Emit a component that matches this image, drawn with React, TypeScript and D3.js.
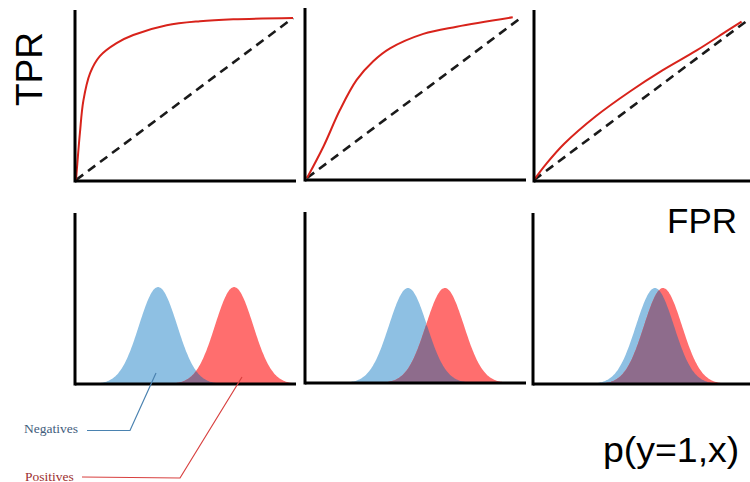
import React from "react";
import * as d3 from "d3";

// ROC curves: [FPR, TPR]
const roc1: [number, number][] = [
  [0, 0], [0.006, 0.1], [0.018, 0.29], [0.034, 0.49], [0.065, 0.66], [0.11, 0.765],
  [0.187, 0.845], [0.264, 0.895], [0.418, 0.955], [0.571, 0.98], [0.725, 0.992], [1, 1],
];
const roc2: [number, number][] = [
  [0, 0], [0.076, 0.194], [0.153, 0.422], [0.231, 0.609], [0.308, 0.725], [0.386, 0.805],
  [0.541, 0.895], [0.696, 0.94], [0.957, 0.998],
];
const roc3: [number, number][] = [
  [0, 0], [0.06, 0.105], [0.14, 0.225], [0.29, 0.4], [0.45, 0.555], [0.6, 0.685],
  [0.76, 0.81], [0.9, 0.93], [0.97, 0.99],
];
const rocSeries = [roc1, roc2, roc3];

// Score distributions (normalised score axis 0..1): mean and sd of each class
const negMeans = [0.376, 0.466, 0.562];
const posMeans = [0.72, 0.633, 0.599];
const classSd = [0.086, 0.086, 0.0876];

const labels = { tpr: "TPR", fpr: "FPR", joint: "p(y=1,x)", neg: "Negatives", pos: "Positives" };

// Layout
const topFrames = [
  { ax: 75, right: 296, top: 10, bottom: 181, x0: 76, x1: 293, y0: 180, y1: 18 },
  { ax: 305, right: 526, top: 8, bottom: 180, x0: 307, x1: 522, y0: 178, y1: 17 },
  { ax: 534, right: 750, top: 10, bottom: 181, x0: 534, x1: 748, y0: 180, y1: 20 },
];
const botFrames = [
  { ax: 75, right: 296, top: 213, bottom: 384, peak: 287 },
  { ax: 305, right: 526, top: 212, bottom: 383, peak: 288 },
  { ax: 533, right: 750, top: 213, bottom: 384, peak: 288 },
];

const BLUE = "#8ec0e3";
const RED = "#ff6e6e";
const PURPLE = "#8e6c8c";

const gauss = (x: number, m: number, s: number) => Math.exp(-((x - m) * (x - m)) / (2 * s * s));
const grid = d3.range(0, 1.0001, 0.004);

export default function App() {
  return (
    <svg width={750} height={482} style={{ position: "absolute", left: 0, top: 0, background: "#fff" }}>
      {topFrames.map((f, i) => {
        const x = d3.scaleLinear().domain([0, 1]).range([f.x0, f.x1]);
        const y = d3.scaleLinear().domain([0, 1]).range([f.y0, f.y1]);
        const line = d3
          .line<[number, number]>()
          .x((d) => x(d[0]))
          .y((d) => y(d[1]))
          .curve(d3.curveCatmullRom.alpha(0.5));
        return (
          <g key={"t" + i}>
            <line x1={x(0)} y1={y(0)} x2={x(1)} y2={y(1)} stroke="#1a1a1a" strokeWidth={2.6} strokeDasharray="9 6" />
            <path d={line(rocSeries[i]) || ""} fill="none" stroke="#d8231b" strokeWidth={2} />
            <line x1={f.ax} y1={f.top} x2={f.ax} y2={f.bottom + 1.5} stroke="#000" strokeWidth={3} />
            <line x1={f.ax} y1={f.bottom} x2={f.right} y2={f.bottom} stroke="#000" strokeWidth={3} />
          </g>
        );
      })}
      {botFrames.map((f, i) => {
        const x = d3.scaleLinear().domain([0, 1]).range([f.ax, f.right]);
        const y = d3.scaleLinear().domain([0, 1]).range([f.bottom, f.peak]);
        const mk = (fn: (v: number) => number) =>
          d3
            .area<number>()
            .x((v) => x(v))
            .y0(y(0))
            .y1((v) => y(fn(v)))
            .curve(d3.curveBasis)(grid) || "";
        const neg = (v: number) => gauss(v, negMeans[i], classSd[i]);
        const pos = (v: number) => gauss(v, posMeans[i], classSd[i]);
        return (
          <g key={"b" + i}>
            <path d={mk(neg)} fill={BLUE} />
            <path d={mk(pos)} fill={RED} />
            <path d={mk((v) => Math.min(neg(v), pos(v)))} fill={PURPLE} />
            <line x1={f.ax} y1={f.top} x2={f.ax} y2={f.bottom + 1.5} stroke="#000" strokeWidth={3} />
            <line x1={f.ax} y1={f.bottom} x2={f.right} y2={f.bottom} stroke="#000" strokeWidth={3} />
          </g>
        );
      })}
      {/* leader lines */}
      <polyline points="87,430.5 130,430.5 156,373" fill="none" stroke="#4a82b0" strokeWidth={1.2} />
      <polyline points="82,477 180,478 242,377" fill="none" stroke="#d8403f" strokeWidth={1.2} />
      <text x={24} y={433} fontFamily="Liberation Serif, serif" fontSize={13.5} fill="#3f5d7c">{labels.neg}</text>
      <text x={25} y={480.5} fontFamily="Liberation Serif, serif" fontSize={13.5} fill="#9c2f2f">{labels.pos}</text>
      <text transform="translate(42,69) rotate(-90)" textAnchor="middle" fontFamily="Liberation Sans, Arial, sans-serif" fontSize={37} fill="#000">{labels.tpr}</text>
      <text x={667} y={233} fontFamily="Liberation Sans, Arial, sans-serif" fontSize={35} fill="#000">{labels.fpr}</text>
      <text transform="translate(603,462) scale(1.07,1)" fontFamily="Liberation Sans, Arial, sans-serif" fontSize={35} fill="#000">{labels.joint}</text>
    </svg>
  );
}
